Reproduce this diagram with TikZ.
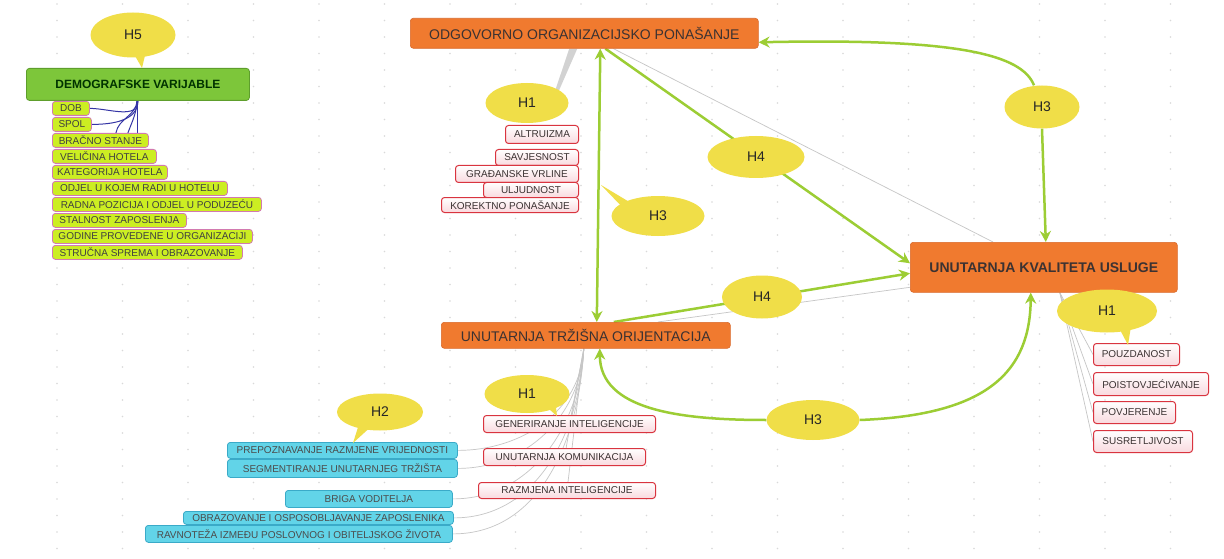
\documentclass[tikz,border=0pt]{standalone}
\usepackage{fontspec}
\setmainfont{Liberation Sans}
\usetikzlibrary{arrows.meta,calc,shapes.geometric,backgrounds}
\pgfdeclarelayer{bgzero}
\pgfsetlayers{bgzero,background,main}
\definecolor{orng}{HTML}{F07A2F}
\definecolor{orngb}{HTML}{D9692A}
\definecolor{ylw}{HTML}{F0DE48}
\definecolor{grn}{HTML}{9CCD34}
\definecolor{redb}{HTML}{D9343F}
\definecolor{pinkf}{HTML}{F9D9DE}
\definecolor{limef}{HTML}{CCEE22}
\definecolor{limeb}{HTML}{D27AB0}
\definecolor{demof}{HTML}{7DC63A}
\definecolor{demob}{HTML}{5E9E2C}
\definecolor{cyanf}{HTML}{62D4E8}
\definecolor{cyanb}{HTML}{3AAAC8}
\definecolor{txt}{HTML}{3B3232}
\definecolor{navy}{HTML}{3535A5}
\tikzset{
  bx/.style={rounded corners=3pt, inner sep=0pt, anchor=north west, align=center},
  mainbox/.style={bx, fill=orng, draw=orngb, line width=0.6pt, text=txt, font=\fontsize{14}{16}\selectfont},
  redbox/.style={bx, draw=redb, line width=1pt, top color=white, bottom color=pinkf, text=txt, font=\fontsize{10}{12}\selectfont},
  dembox/.style={bx, fill=limef, draw=limeb, line width=0.8pt, text=black!75, font=\fontsize{10}{12}\selectfont},
  cyanbox/.style={bx, fill=cyanf, draw=cyanb, line width=0.8pt, text=black!70, font=\fontsize{10}{12}\selectfont},
  bub/.style={ellipse, fill=ylw, inner sep=0pt, text=black!85, font=\fontsize{14}{16}\selectfont},
  garrow/.style={draw=grn, line width=2.5pt, -{Stealth[length=11pt,width=11pt]}},
  gdouble/.style={draw=grn, line width=2.5pt, {Stealth[length=11pt,width=11pt]}-{Stealth[length=11pt,width=11pt]}},
  gry/.style={draw=gray!45, line width=0.7pt},
  nav/.style={draw=navy, line width=1pt},
}
\begin{document}
\begin{tikzpicture}[x=1pt,y=-1pt]
\useasboundingbox (0,0) rectangle (1224,559);
\begin{pgfonlayer}{bgzero}
  \fill[white] (0,0) rectangle (1224,559);
  \foreach \x in {57,122.5,...,1224} \foreach \y in {4,20.5,...,559} \fill[gray!30] (\x,\y) circle (0.8);
\end{pgfonlayer}

% main boxes
\node[mainbox, minimum width=348, minimum height=30] (odg) at (410,18) {ODGOVORNO ORGANIZACIJSKO PONAŠANJE};
\node[mainbox, minimum width=289, minimum height=26] (uto) at (441,322) {UNUTARNJA TRŽIŠNA ORIJENTACIJA};
\node[mainbox, minimum width=267, minimum height=50, font=\bfseries\fontsize{14}{16}\selectfont] (uku) at (910,242) {UNUTARNJA KVALITETA USLUGE};
\node[bx, fill=demof, draw=demob, line width=0.8pt, minimum width=223, minimum height=32, text=black!80!green, font=\bfseries\fontsize{12}{14}\selectfont] (demo) at (26,68) {DEMOGRAFSKE VARIJABLE};

% demographic items
\node[dembox, minimum width=37, minimum height=14] (dob) at (52,101) {DOB};
\node[dembox, minimum width=39, minimum height=14] (spol) at (52,117) {SPOL};
\node[dembox, minimum width=96, minimum height=14] (brac) at (52,133) {BRAČNO STANJE};
\node[dembox, minimum width=104, minimum height=14] (vel) at (52,149) {VELIČINA HOTELA};
\node[dembox, minimum width=115, minimum height=14] (kat) at (52,165) {KATEGORIJA HOTELA};
\node[dembox, minimum width=175, minimum height=14] (odj) at (52,181) {ODJEL U KOJEM RADI U HOTELU};
\node[dembox, minimum width=209, minimum height=14] (rad) at (52,197) {RADNA POZICIJA I ODJEL U PODUZEĆU};
\node[dembox, minimum width=134, minimum height=14] (sta) at (52,213) {STALNOST ZAPOSLENJA};
\node[dembox, minimum width=200, minimum height=14] (god) at (52,229) {GODINE PROVEDENE U ORGANIZACIJI};
\node[dembox, minimum width=190, minimum height=14] (str) at (52,245) {STRUČNA SPREMA I OBRAZOVANJE};

% red items (ODG)
\node[redbox, minimum width=73, minimum height=18] (alt) at (505,125) {ALTRUIZMA};
\node[redbox, minimum width=83, minimum height=16] (sav) at (495,149) {SAVJESNOST};
\node[redbox, minimum width=123, minimum height=17] (gra) at (455,165) {GRAĐANSKE VRLINE};
\node[redbox, minimum width=95, minimum height=15] (ulj) at (483,182) {ULJUDNOST};
\node[redbox, minimum width=137, minimum height=15] (kor) at (441,197) {KOREKTNO PONAŠANJE};

% red items (UTO)
\node[redbox, minimum width=172, minimum height=17] (gen) at (483,415) {GENERIRANJE INTELIGENCIJE};
\node[redbox, minimum width=162, minimum height=17] (unk) at (483,448) {UNUTARNJA KOMUNIKACIJA};
\node[redbox, minimum width=177, minimum height=16] (raz) at (478,482) {RAZMJENA INTELIGENCIJE};

% cyan items
\node[cyanbox, minimum width=230, minimum height=16] (pre) at (227,442) {PREPOZNAVANJE RAZMJENE VRIJEDNOSTI};
\node[cyanbox, minimum width=230, minimum height=18] (seg) at (227,459) {SEGMENTIRANJE UNUTARNJEG TRŽIŠTA};
\node[cyanbox, minimum width=167, minimum height=17] (bri) at (285,490) {BRIGA VODITELJA};
\node[cyanbox, minimum width=270, minimum height=13] (obr) at (183,511) {OBRAZOVANJE I OSPOSOBLJAVANJE ZAPOSLENIKA};
\node[cyanbox, minimum width=307, minimum height=17] (rav) at (145,525) {RAVNOTEŽA IZMEĐU POSLOVNOG I OBITELJSKOG ŽIVOTA};

% red items (UKU)
\node[redbox, minimum width=86, minimum height=22] (pou) at (1093,343) {POUZDANOST};
\node[redbox, minimum width=115, minimum height=23] (poi) at (1093,372) {POISTOVJEĆIVANJE};
\node[redbox, minimum width=82, minimum height=22] (pov) at (1093,401) {POVJERENJE};
\node[redbox, minimum width=99, minimum height=22] (sus) at (1093,430) {SUSRETLJIVOST};

% bubbles
\node[bub, minimum width=85, minimum height=45] (h5) at (133,35) {H5};
\node[bub, minimum width=83, minimum height=40] (h1a) at (527,103) {H1};
\node[bub, minimum width=97, minimum height=42] (h4a) at (756,157) {H4};
\node[bub, minimum width=93, minimum height=40] (h3m) at (658,216) {H3};
\node[bub, minimum width=75, minimum height=43] (h3r) at (1042,107) {H3};
\node[bub, minimum width=80, minimum height=43] (h4b) at (762,297) {H4};
\node[bub, minimum width=93, minimum height=40] (h3l) at (813,420) {H3};
\node[bub, minimum width=85, minimum height=38] (h1b) at (527,394) {H1};
\node[bub, minimum width=86, minimum height=37] (h2) at (380,412) {H2};
\node[bub, minimum width=100, minimum height=43] (h1c) at (1107,311) {H1};

% bubble tails
\coordinate (t5) at (142,68);
\coordinate (t3m) at (601,185);
\coordinate (t1b) at (557,416);
\coordinate (t2) at (353,443);
\coordinate (t1c) at (1128,345);
\fill[ylw] ($(h5)+(-2,14)$) -- (t5) -- ($(h5)+(14,12)$) -- cycle;
\fill[ylw] ($(h3m)+(-22,-10)$) -- (t3m) -- ($(h3m)+(-32,-5)$) -- cycle;
\fill[ylw] ($(h1b)+(15,9)$) -- (t1b) -- ($(h1b)+(28,5)$) -- cycle;
\fill[ylw] ($(h2)+(-20,9)$) -- (t2) -- ($(h2)+(-5,11)$) -- cycle;
\fill[ylw] ($(h1c)+(10,13)$) -- (t1c) -- ($(h1c)+(25,9)$) -- cycle;

\begin{pgfonlayer}{background}
  % gray tree connectors
  \fill[gray!35] ([xshift=-15pt]odg.south) -- ([xshift=-7pt]odg.south) -- ($(h1a)+(30,-8)$) -- ($(h1a)+(26,-6)$) -- cycle;
  \foreach \n in {gen,unk,raz}
    \draw[gry] ([xshift=-2pt]uto.south) -- (\n.center);
  \foreach \n in {pre,seg,bri,obr,rav}
    \draw[gry] ([xshift=-2pt]uto.south) to[out=-93,in=0] (\n.east);
  \foreach \n in {pou,poi,pov,sus}
    \draw[gry] ([xshift=16pt]uku.south) -- (\n.west);
  \draw[gry] ([xshift=29pt]odg.south) -- ([xshift=83pt]uku.north west);
  \draw[gry] ([xshift=72pt]uto.north) -- ([yshift=-20pt]uku.west);
  % demographic connectors
  \draw[nav] (demo.south) to[out=-90,in=0] (dob.east);
  \draw[nav] (demo.south) to[out=-90,in=0] (spol.east);
  \draw[nav] (demo.south) -- (demo.south |- brac.north);
  \draw[nav] ([xshift=-1pt]demo.south) to[out=-92,in=80] ([xshift=-22pt]demo.south |- brac.north);
  \draw[nav] ([xshift=-1pt]demo.south) to[out=-92,in=70] ([xshift=-10pt]demo.south |- brac.north);
  % green hypotheses
  \draw[gdouble] ([xshift=16pt]odg.south) -- ([xshift=11pt]uto.north);
  \draw[garrow] ([xshift=21pt]odg.south) -- ([yshift=4pt]uku.west);
  \draw[garrow] ([xshift=28pt]uto.north) -- ([yshift=-6pt]uku.west);
  \draw[garrow] ([xshift=-8pt]h3r.north) .. controls (1022,55) and (960,38) .. ([yshift=-9pt]odg.east);
  \draw[garrow] (h3r.south) -- ([xshift=2pt]uku.north);
  \draw[garrow] (h3l.west) .. controls (680,420) and (600,410) .. ([xshift=14pt]uto.south);
  \draw[garrow] (h3l.east) .. controls (990,415) and (1030,370) .. ([xshift=-13pt]uku.south);
\end{pgfonlayer}
\end{tikzpicture}
\end{document}
